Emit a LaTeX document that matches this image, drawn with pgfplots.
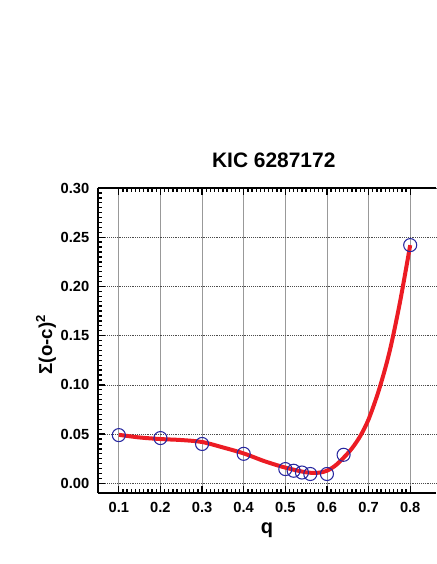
\documentclass[border=0pt]{standalone}
\usepackage{fontspec}
\setmainfont{Liberation Sans}
\usepackage{pgfplots}
\pgfplotsset{compat=1.18}
\usetikzlibrary{calc}
\definecolor{ptblue}{RGB}{40,40,160}
\definecolor{fitred}{RGB}{236,28,36}

\begin{document}
\begin{tikzpicture}
\begin{axis}[
    scale only axis,
    width=253.5pt, height=228.75pt,
    xmin=0.05, xmax=0.862, ymin=-0.0098, ymax=0.30,
    axis y line*=left,
    axis line style={line width=1.4pt},
    xtick={0.1,0.2,...,0.8}, ytick={0,0.05,...,0.30},
    minor x tick num=9, minor y tick num=9,
    xtick pos=both, ytick pos=left,
    tick align=inside,
    major tick length=5pt, minor tick length=3.2pt,
    every tick/.style={black, line width=1pt},
    grid=major,
    major x grid style={gray!80, line width=0.5pt},
    major y grid style={black!70, densely dotted, line width=0.5pt},
    /pgf/number format/assume math mode=true,
    xticklabel style={font=\fontsize{11}{13}\selectfont\bfseries, yshift=-3.5pt,
        /pgf/number format/.cd, fixed, precision=1, fixed zerofill},
    yticklabel style={font=\fontsize{11}{13}\selectfont\bfseries, xshift=-3pt,
        /pgf/number format/.cd, fixed, precision=2, fixed zerofill},
    title={KIC 6287172},
    title style={font=\fontsize{15.7}{18}\selectfont\bfseries, at={(axis description cs:0.52,1)}, anchor=center, yshift=15pt},
    xlabel={q},
    every axis x label/.style={at={(axis description cs:0.5,0)}, anchor=center, yshift=-27.75pt, font=\fontsize{15}{18}\selectfont\bfseries},
    ylabel={Σ(o-c)\textsuperscript{2}},
    every axis y label/.style={at={(axis description cs:0,0.5)}, xshift=-39pt, yshift=-3pt, rotate=90, anchor=center, font=\fontsize{14}{16}\selectfont\bfseries},
]
\addplot[fitred, line width=3pt, smooth, no marks] coordinates {
    (0.1,0.0493) (0.15,0.0466) (0.2,0.0450) (0.25,0.0440) (0.3,0.0420)
    (0.35,0.0365) (0.4,0.0304) (0.45,0.0225) (0.5,0.0160) (0.55,0.0112)
    (0.58,0.0108) (0.6,0.0128) (0.62,0.0180) (0.64,0.0260) (0.66,0.0355)
    (0.68,0.0480) (0.7,0.0650) (0.725,0.0950) (0.75,0.1330) (0.775,0.1830)
    (0.8,0.2420)
};
\addplot[only marks, mark=o, mark size=4.9pt, mark options={ptblue, line width=0.8pt}] coordinates {
    (0.1,0.049) (0.2,0.046) (0.3,0.040) (0.4,0.030) (0.5,0.0145)
    (0.52,0.0128) (0.54,0.011) (0.56,0.0095) (0.6,0.0095) (0.64,0.029)
    (0.8,0.242)
};
\coordinate (sw) at (rel axis cs:0,0);
\coordinate (ne) at (rel axis cs:1,1);
\end{axis}
\path ($(sw)+(-73.5pt,-53.25pt)$) rectangle ($(ne)+(0,141pt)$);
\end{tikzpicture}
\end{document}
